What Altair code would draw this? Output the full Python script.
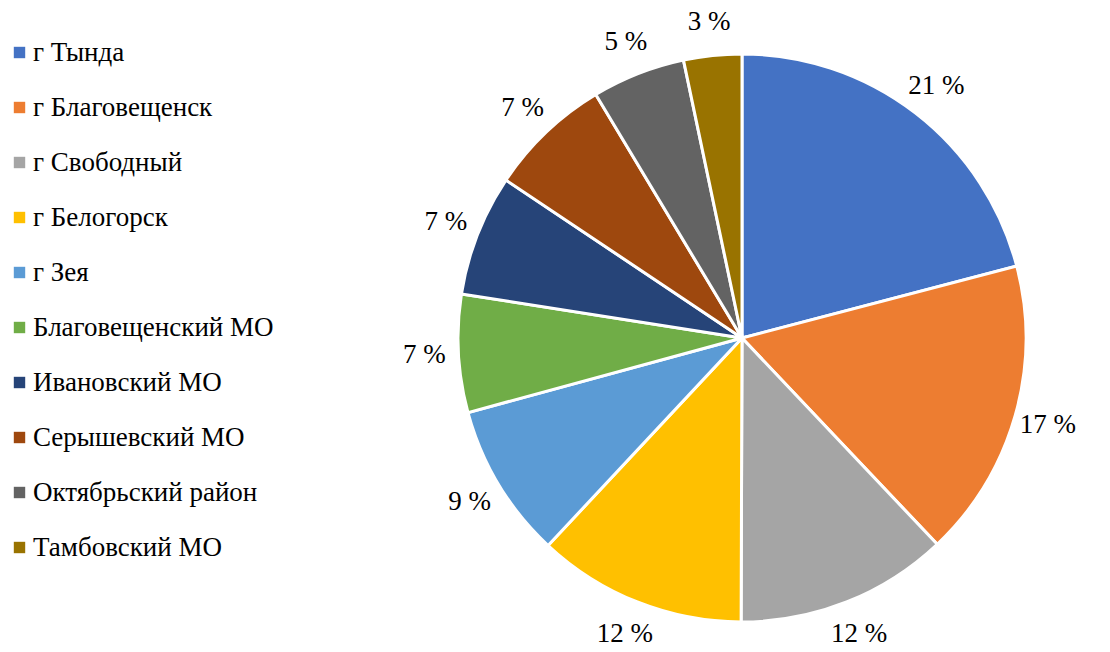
import altair as alt
import pandas as pd

categories = ["г Тында", "г Благовещенск", "г Свободный", "г Белогорск", "г Зея",
              "Благовещенский МО", "Ивановский МО", "Серышевский МО",
              "Октябрьский район", "Тамбовский МО"]
values = [20.9, 17.0, 12.1, 11.9, 8.8, 6.7, 6.9, 7.0, 5.3, 3.3]
labels = ["21 %", "17 %", "12 %", "12 %", "9 %", "7 %", "7 %", "7 %", "5 %", "3 %"]
colors = ["#4472C4", "#ED7D31", "#A5A5A5", "#FFC000", "#5B9BD5",
          "#70AD47", "#264478", "#9E480E", "#636363", "#997300"]

FONT = "Times New Roman, Liberation Serif, serif"

df = pd.DataFrame({"cat": categories, "val": values, "label": labels,
                   "idx": list(range(len(categories)))})

base = alt.Chart(df).encode(
    theta=alt.Theta("val:Q", stack=True),
    order=alt.Order("idx:Q"),
    x=alt.value(742),
    y=alt.value(338),
)

pie = base.mark_arc(outerRadius=284, stroke="white", strokeWidth=3).encode(
    color=alt.Color("cat:N", sort=categories,
                    scale=alt.Scale(domain=categories, range=colors),
                    legend=alt.Legend(title=None, orient="none", legendX=6, legendY=39,
                                      symbolType="square", symbolSize=130,
                                      symbolStrokeWidth=0,
                                      labelFont=FONT, labelFontSize=27,
                                      labelColor="black", labelOffset=0,
                                      rowPadding=27, labelLimit=400))
)

text = base.mark_text(radius=318, font=FONT, fontSize=27,
                      color="black").encode(text="label:N")

chart = (pie + text).properties(
    width=1110, height=652,
    autosize=alt.AutoSizeParams(type="none"),
    padding=0,
).configure_view(stroke=None)

chart.save("out.html", embed_options={"renderer": "svg", "actions": False})
